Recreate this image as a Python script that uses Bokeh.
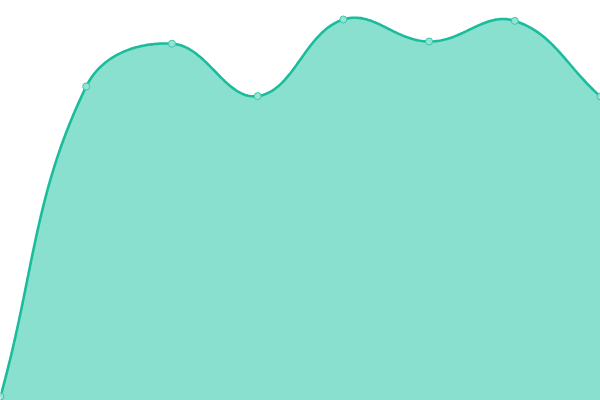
import numpy as np
from bokeh.plotting import figure
from bokeh.models import Range1d
from bokeh.embed import file_html
from bokeh.resources import INLINE

# Data
labels = ["1", "2", "3", "4", "5", "6", "7", "8"]
values = [1.0, 78.5, 89.2, 76.1, 95.25, 89.75, 94.9, 76.0]
y_max = 100.0

W, H = 600, 400
tension = 0.4

x = np.arange(len(values), dtype=float)
y = np.array(values, dtype=float)

# spline control points computed in pixel space (Chart.js-style tension curve)
sx = W / (len(values) - 1)
sy = H / y_max
pts = np.column_stack([x * sx, y * sy])
n = len(pts)
cp_prev = np.zeros_like(pts)
cp_next = np.zeros_like(pts)
for i in range(n):
    prv = pts[max(i - 1, 0)]
    cur = pts[i]
    nxt = pts[min(i + 1, n - 1)]
    d01 = np.hypot(*(cur - prv))
    d12 = np.hypot(*(nxt - cur))
    tot = d01 + d12
    s01 = d01 / tot if tot else 0.0
    s12 = d12 / tot if tot else 0.0
    cp_prev[i] = cur - tension * s01 * (nxt - prv)
    cp_next[i] = cur + tension * s12 * (nxt - prv)
for arr in (cp_prev, cp_next):
    arr[:, 0] = np.clip(arr[:, 0], 0, W)
    arr[:, 1] = np.clip(arr[:, 1], 0, H)

t = np.linspace(0, 1, 60)[:, None]
curve = []
for i in range(n - 1):
    p0, p1, p2, p3 = pts[i], cp_next[i], cp_prev[i + 1], pts[i + 1]
    seg = ((1 - t) ** 3) * p0 + 3 * ((1 - t) ** 2) * t * p1 + 3 * (1 - t) * t ** 2 * p2 + t ** 3 * p3
    curve.append(seg if i == 0 else seg[1:])
curve = np.vstack(curve)
cx = curve[:, 0] / sx
cy = curve[:, 1] / sy

p = figure(width=W, height=H, output_backend="svg", toolbar_location=None,
           x_range=Range1d(0, len(values) - 1), y_range=Range1d(0, y_max),
           min_border=0)
p.axis.visible = False
p.grid.visible = False
p.outline_line_color = None
p.background_fill_color = "white"
p.border_fill_color = "white"

p.varea(x=cx, y1=np.zeros_like(cy), y2=cy, fill_color="#89e0cf", fill_alpha=1.0)
p.line(cx, cy, line_color="#1abc9c", line_width=2.6)
p.scatter(x, y, size=7, fill_color="#95e3d3", line_color="#3cc6a8", line_width=1)

open("out.html", "w").write(file_html(p, INLINE))
